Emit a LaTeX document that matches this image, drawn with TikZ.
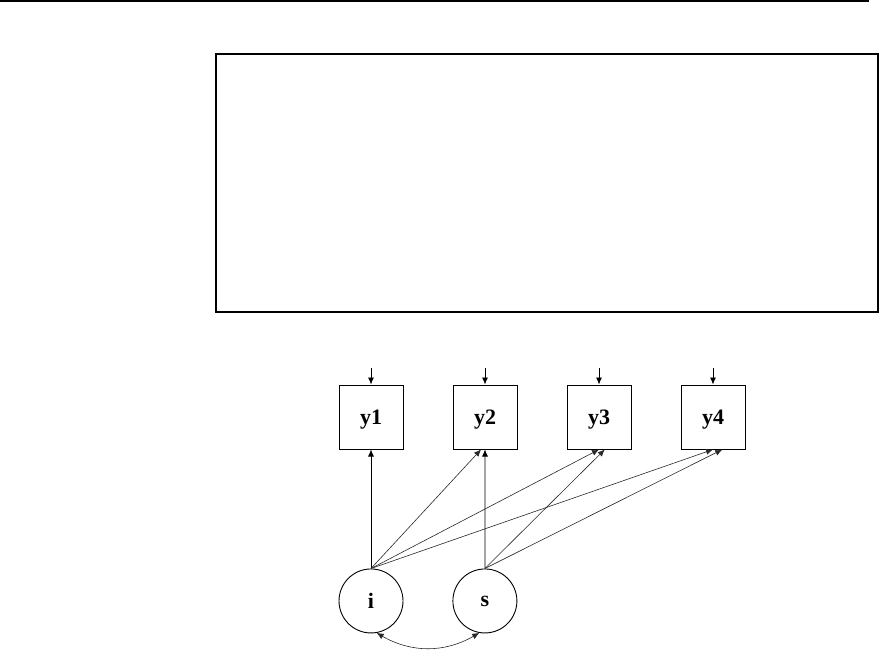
\documentclass[tikz,border=0pt]{standalone}
\usepackage{fontspec}
\setmainfont{Liberation Serif}
\usetikzlibrary{arrows.meta, positioning}
\definecolor{lnBlack}{RGB}{0,0,0}
\definecolor{pathGray}{RGB}{40,40,40}
\tikzset{
  panelN/.style={rectangle, draw=lnBlack, line width=1.2pt,
    minimum width=662pt, minimum height=258pt, inner sep=0pt},
  obsN/.style={rectangle, draw=lnBlack, line width=1pt, text depth=0pt,
    minimum size=64pt, inner sep=0pt, font=\fontsize{22}{26}\selectfont\bfseries},
  latN/.style={circle, draw=lnBlack, line width=0.9pt,
    minimum size=64pt, inner sep=0pt, font=\fontsize{22}{26}\selectfont\bfseries},
  arr/.style={-{Latex[length=7pt,width=6pt]}, line width=0.8pt, color=lnBlack},
  darr/.style={arr, line width=0.6pt, color=pathGray},
  covarr/.style={{Latex[length=7pt,width=6pt]}-{Latex[length=7pt,width=6pt]},
    line width=0.6pt, color=pathGray},
}

\begin{document}
\begin{tikzpicture}[x=1pt, y=1pt, node distance=119pt and 49pt]

\useasboundingbox (0,0) rectangle (879,-657);

% header rule and empty output panel
\draw[lnBlack, line width=2pt] (0,-1) -- (869,-1);
\node[panelN] (panel) at (547,-183) {};

% observed outcomes
\node[obsN] (y1) at (371,-417) {y1};
\node[obsN, right=49pt of y1] (y2) {y2};
\node[obsN, right=49pt of y2] (y3) {y3};
\node[obsN, right=49pt of y3] (y4) {y4};

% growth factors
\node[latN, below=119pt of y1] (i) {i};
\node[latN, right=49pt of i] (s) {s};

% residuals
\coordinate[above=17pt of y1] (e1);
\coordinate[above=17pt of y2] (e2);
\coordinate[above=17pt of y3] (e3);
\coordinate[above=17pt of y4] (e4);
\draw[arr] (e1) -- (y1.north);
\draw[arr] (e2) -- (y2.north);
\draw[arr] (e3) -- (y3.north);
\draw[arr] (e4) -- (y4.north);

% intercept loadings
\draw[arr] (i.north) -- (y1.south);
\draw[darr] (i.north) -- (y2.-97);
\draw[darr] (i.north) -- (y3.south);
\draw[darr] (i.north) -- (y4.south);

% slope loadings
\draw[arr] (s.north) -- (y2.south);
\draw[darr] (s.north) -- (y3.-80);
\draw[darr] (s.north) -- (y4.-74);

% factor covariance
\draw[covarr] (i.-80) to[out=-30, in=-150] (s.-100);

\end{tikzpicture}
\end{document}
